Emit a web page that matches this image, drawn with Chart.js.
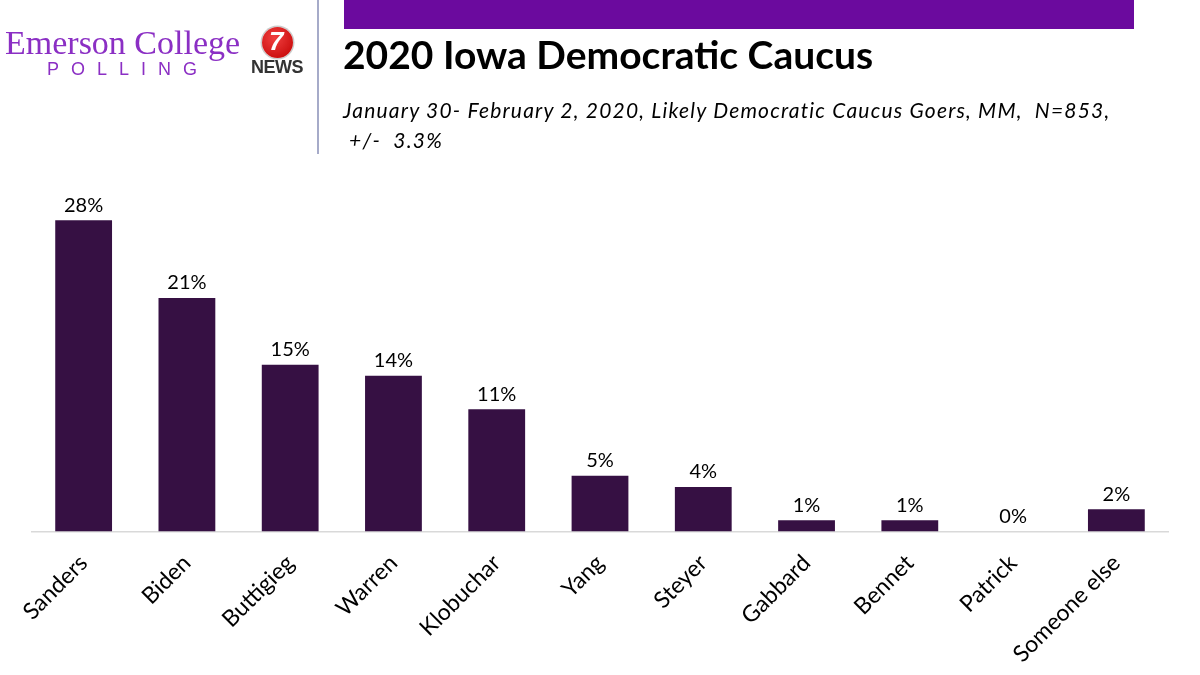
<!DOCTYPE html>
<html><head><meta charset="utf-8">
<script src="https://cdn.jsdelivr.net/npm/chart.js@4"></script>
<style>
html,body{margin:0;padding:0;background:#fff;}
#wrap{position:relative;width:1200px;height:675px;overflow:hidden;font-family:Lato,"Open Sans",sans-serif;}
#c{position:absolute;left:0;top:0;}
.abs{position:absolute;white-space:nowrap;}
</style></head>
<body>
<div id="wrap">
<canvas id="c" width="1200" height="686"></canvas>
<div class="abs" style="left:5px;top:24px;font-family:'Liberation Serif',serif;font-size:34px;color:#8b2fc4;">Emerson College</div>
<div class="abs" style="left:47px;top:59px;font-family:'Liberation Sans',sans-serif;font-size:18px;letter-spacing:12px;color:#8b2fc4;">POLLING</div>
<div class="abs" style="left:262px;top:27px;width:31px;height:31px;border-radius:50%;background:radial-gradient(circle at 40% 35%,#f04040,#c00000);box-shadow:0 0 0 1.5px #ccc;"></div>
<div class="abs" style="left:269px;top:26px;font-family:'Liberation Sans',sans-serif;font-weight:bold;font-style:italic;font-size:26px;color:#fff;">7</div>
<div class="abs" style="left:251px;top:57px;font-family:'Liberation Sans',sans-serif;font-weight:bold;font-size:18px;color:#333;letter-spacing:-0.5px;">NEWS</div>
<div class="abs" style="left:317px;top:0;width:2px;height:154px;background:#a6abc9;"></div>
<div class="abs" style="left:344px;top:0;width:790px;height:29px;background:#6b0a9e;"></div>
<div class="abs" style="left:343px;top:31px;font-family:Lato,sans-serif;font-weight:bold;font-size:39px;color:#000;">2020 Iowa Democratic Caucus</div>
<div class="abs" style="left:343px;top:95px;font-family:Lato,sans-serif;font-style:italic;font-size:21px;letter-spacing:1.2px;line-height:30px;color:#000;">January 30- February 2, 2020, Likely Democratic Caucus Goers, MM,&nbsp; N=853,<br>&nbsp;+/-&nbsp; 3.3%</div>
</div>
<script>
const categories = ["Sanders","Biden","Buttigieg","Warren","Klobuchar","Yang","Steyer","Gabbard","Bennet","Patrick","Someone else"];
const values = [28,21,15,14,11,5,4,1,1,0,2];
const valueLabels = ["28%","21%","15%","14%","11%","5%","4%","1%","1%","0%","2%"];

const labelPlugin = {
  id:'valLabels',
  afterDatasetsDraw(chart){
    const ctx = chart.ctx;
    const meta = chart.getDatasetMeta(0);
    ctx.save();
    ctx.font = '20px Lato, sans-serif';
    ctx.fillStyle = '#000';
    ctx.textAlign = 'center';
    ctx.textBaseline = 'bottom';
    meta.data.forEach((bar,i)=>{
      ctx.fillText(valueLabels[i], bar.x, bar.y - 5);
    });
    ctx.restore();
  }
};

new Chart(document.getElementById('c'), {
  type:'bar',
  data:{labels:categories,datasets:[{data:values,backgroundColor:'#361043',borderWidth:0,barPercentage:0.55,categoryPercentage:1.0}]},
  options:{
    responsive:false,animation:false,
    layout:{padding:{left:32,right:32,top:198,bottom:0}},
    plugins:{legend:{display:false},tooltip:{enabled:false}},
    scales:{
      x:{grid:{display:false,drawTicks:false},border:{display:true,color:'#d9d9d9',width:1.5},
         ticks:{color:'#000',font:{family:'Lato, sans-serif',size:23},maxRotation:45,minRotation:45,padding:18,autoSkip:false}},
      y:{display:false,min:0,max:30}
    }
  },
  plugins:[labelPlugin]
});
</script>
</body></html>
